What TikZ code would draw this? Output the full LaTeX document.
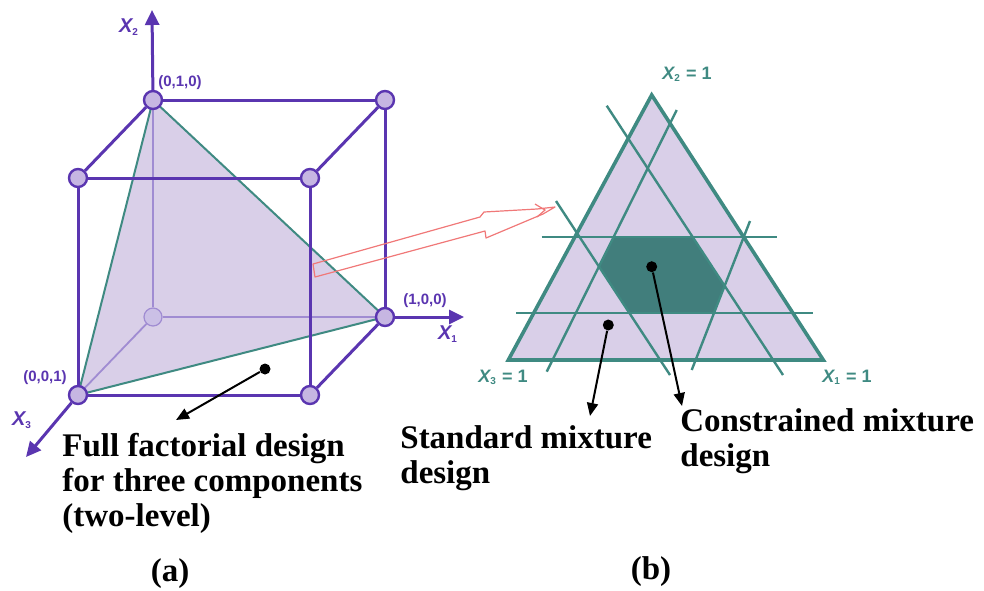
\documentclass[tikz,border=0pt]{standalone}
\usepackage{fontspec}
\setmainfont{Liberation Serif}
\setsansfont{Liberation Sans}
\usetikzlibrary{arrows.meta}
\pgfdeclarelayer{background}
\pgfsetlayers{background,main}

\definecolor{cubeviolet}{HTML}{5A35B0}
\definecolor{faintviolet}{HTML}{A08CD2}
\definecolor{lavender}{HTML}{D9CFE8}
\definecolor{dotfill}{HTML}{C6B6E2}
\definecolor{tealline}{HTML}{3F8A82}
\definecolor{tealdark}{HTML}{417E7C}
\definecolor{arrowred}{HTML}{F07878}

\newcommand{\subidx}[1]{\textsubscript{\upshape\fontsize{5}{5}\selectfont #1}}

\tikzset{
  vertex/.style={circle, draw=cubeviolet, fill=dotfill, line width=1.2pt, minimum size=9pt, inner sep=0pt},
  hidvertex/.style={circle, draw=faintviolet, fill=faintviolet!55, line width=0.6pt, minimum size=9pt, inner sep=0pt},
  cubeedge/.style={cubeviolet, line width=1.5pt},
  hidedge/.style={faintviolet, line width=0.9pt},
  axisarrow/.style={cubeviolet, line width=1.5pt, -{Triangle[length=7.5pt,width=7pt]}},
  coordlabel/.style={font=\sffamily\bfseries\fontsize{7.5}{8}\selectfont, text=cubeviolet, inner sep=0pt},
  axislabel/.style={font=\sffamily\bfseries\itshape\fontsize{10}{11}\selectfont, text=cubeviolet, inner sep=0pt},
  simplexlabel/.style={font=\sffamily\bfseries\fontsize{9}{10}\selectfont, text=tealline, inner sep=0pt},
  caption/.style={font=\bfseries\fontsize{16.5}{17.5}\selectfont, align=left, inner sep=0pt, anchor=north west},
  sublabel/.style={font=\bfseries\fontsize{16.5}{17.5}\selectfont, inner sep=0pt},
  blackdot/.style={circle, fill=black, minimum size=5.5pt, inner sep=0pt},
  pointer/.style={black, line width=1pt, -{Triangle[length=6.5pt,width=5.5pt]}},
  mixline/.style={tealline, line width=1.2pt}
}

\begin{document}
\begin{tikzpicture}[x=0.5pt,y=-0.5pt]
\useasboundingbox (0,0) rectangle (984,590);

  \node[vertex] (v010) at (153,100) {};
  \node[vertex] (v110) at (385,100) {};
  \node[vertex] (v011) at (78,178) {};
  \node[vertex] (v111) at (310,178) {};
  \node[hidvertex] (v000) at (153,317) {};
  \node[vertex] (v100) at (385,317) {};
  \node[vertex] (v001) at (78,395) {};
  \node[vertex] (v101) at (310,395) {};

\coordinate (x2tip) at (152,10);
\coordinate (x1tip) at (464,317);
\coordinate (x3tip) at (26,457);

\begin{pgfonlayer}{background}
  \fill[lavender] (v010.center) -- (v100.center) -- (v001.center) -- cycle;
  \draw[hidedge] (v000) -- (v010);
  \draw[hidedge] (v000) -- (v100);
  \draw[hidedge] (v000) -- (v001);
  \draw[tealline, line width=1pt] (v010.center) -- (v100.center) -- (v001.center) -- cycle;
  \draw[cubeedge] (v010) -- (v110);
  \draw[cubeedge] (v010) -- (v011);
  \draw[cubeedge] (v110) -- (v111);
  \draw[cubeedge] (v011) -- (v111);
  \draw[cubeedge] (v011) -- (v001);
  \draw[cubeedge] (v111) -- (v101);
  \draw[cubeedge] (v110) -- (v100);
  \draw[cubeedge] (v100) -- (v101);
  \draw[cubeedge] (v001) -- (v101);
\end{pgfonlayer}

\draw[axisarrow] (v010) -- (x2tip);
\draw[axisarrow] (v100) -- (x1tip);
\draw[axisarrow] (v001) -- (x3tip);

\node[axislabel] (x2lab) at (129,27) {X\subidx{2}};
\node[axislabel] (x1lab) at (448,334) {X\subidx{1}};
\node[axislabel] (x3lab) at (22,420) {X\subidx{3}};
\node[coordlabel] (p010) at (180,83) {(0,1,0)};
\node[coordlabel] (p100) at (425,301) {(1,0,0)};
\node[coordlabel] (p001) at (45,378) {(0,0,1)};

\node[blackdot] (fulldot) at (265,369) {};
\coordinate (fulltip) at (176,420);
\draw[pointer] (fulldot) -- (fulltip);

\node[caption] (fulltext) at (62,433) {Full factorial design\\for three components\\(two-level)};
\node[sublabel] (capa) at (170,574) {(a)};

\draw[arrowred, line width=0.6pt, line join=round]
  (313,264) -- (480,217) -- (484,212) -- (537,209) -- (555,207)
  -- (543,214) -- (486,238) -- (485,231) -- (315,277) -- cycle;
\draw[arrowred, line width=0.6pt] (535,204) -- (545,210) -- (537,217);

\coordinate (stop) at (651.7,95);
\coordinate (sleft) at (508.3,360);
\coordinate (sright) at (823.3,360);
\coordinate (h1a) at (541.7,236.7);
\coordinate (h1b) at (777.3,236.7);
\coordinate (h2a) at (516,312.7);
\coordinate (h2b) at (813.3,312.7);
\coordinate (la1) at (606.7,105.7);
\coordinate (la2) at (783,375);
\coordinate (lb1) at (556,201);
\coordinate (lb2) at (670,375);
\coordinate (lc1) at (676.7,110);
\coordinate (lc2) at (546.7,371.7);
\coordinate (ld1) at (750,221);
\coordinate (ld2) at (691.7,370);

\fill[lavender] (stop) -- (sright) -- (sleft) -- cycle;
\fill[tealdark] (intersection of h1a--h1b and lc1--lc2)
  -- (intersection of h1a--h1b and la1--la2)
  -- (intersection of la1--la2 and ld1--ld2)
  -- (intersection of ld1--ld2 and h2a--h2b)
  -- (intersection of h2a--h2b and lb1--lb2)
  -- (intersection of lb1--lb2 and lc1--lc2) -- cycle;
\draw[mixline] (h1a) -- (h1b);
\draw[mixline] (h2a) -- (h2b);
\draw[mixline] (la1) -- (la2);
\draw[mixline] (lb1) -- (lb2);
\draw[mixline] (lc1) -- (lc2);
\draw[mixline] (ld1) -- (ld2);
\draw[tealline, line width=1.8pt, line join=miter] (stop) -- (sright) -- (sleft) -- cycle;

\node[simplexlabel] (lab2) at (687,74) {\itshape X\subidx{2}\upshape\ = 1};
\node[simplexlabel] (lab3) at (503,377) {\itshape X\subidx{3}\upshape\ = 1};
\node[simplexlabel] (lab1) at (847,377) {\itshape X\subidx{1}\upshape\ = 1};

\node[blackdot] (stddot) at (608.3,325) {};
\coordinate (stdtip) at (590,416);
\draw[pointer] (stddot) -- (stdtip);
\node[blackdot] (condot) at (651.7,266.7) {};
\coordinate (contip) at (682,406);
\draw[pointer] (condot) -- (contip);

\node[caption] (stdtext) at (400,425) {Standard mixture\\design};
\node[caption] (context) at (680,408) {Constrained mixture\\design};
\node[sublabel] (capb) at (651,572) {(b)};
\end{tikzpicture}
\end{document}
